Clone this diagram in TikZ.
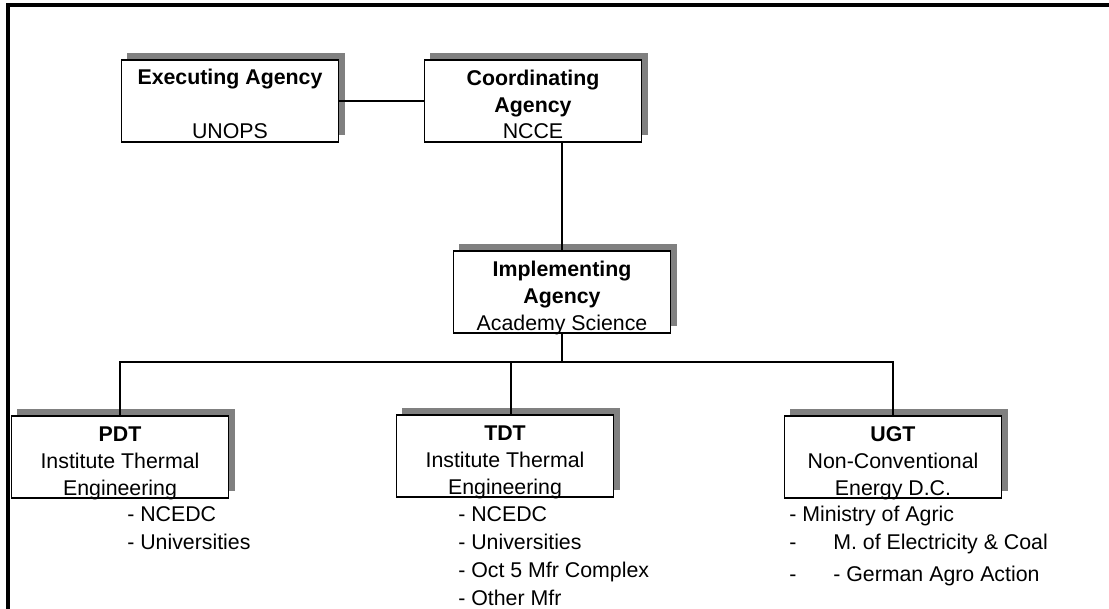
\documentclass[tikz,border=0pt]{standalone}
\usepackage{fontspec}
\setmainfont{Liberation Sans}
\usetikzlibrary{shadows}
\definecolor{shadowgrey}{HTML}{808080}
\tikzset{
  agency/.style={draw, line width=0.9pt, fill=white, minimum width=163pt,
    minimum height=61.5pt, align=center, inner xsep=2pt, inner ysep=2.25pt,
    text height=57pt, text depth=0pt, font=\fontsize{16}{20}\selectfont,
    drop shadow={shadow xshift=4.5pt, shadow yshift=5pt, fill=shadowgrey, opacity=1}},
  members/.style={anchor=north west, align=left, inner sep=0pt,
    font=\fontsize{16}{21}\selectfont},
  frame/.style={line width=2.4pt},
  link/.style={line width=0.8pt}
}
\begin{document}
\begin{tikzpicture}[x=0.75pt,y=-0.75pt]
  \useasboundingbox (0,0) rectangle (1109,609);
  \draw[frame] (8,609) |- (1109,5);
  \draw
    (230,101) node[agency] (exec){\textbf{Executing Agency}\\[20.5pt]UNOPS}
    (533,101) node[agency] (coord){\textbf{Coordinating}\\\textbf{Agency}\\NCCE}
    (562,292) node[agency] (impl){\textbf{Implementing}\\\textbf{Agency}\\Academy Science}
    (120,457) node[agency] (pdt){\textbf{PDT}\\Institute Thermal\\Engineering}
    (505,456) node[agency] (tdt){\textbf{TDT}\\Institute Thermal\\Engineering}
    (893,457) node[agency] (ugt){\textbf{UGT}\\Non-Conventional\\Energy D.C.};
  \coordinate (bus) at (562,362);
  % who works with whom
  \node[members] (pdtlist) at (127,506) {- NCEDC\\- Universities};
  \node[members] (tdtlist) at (458,506) {- NCEDC\\- Universities\\- Oct 5 Mfr Complex\\- Other Mfr};
  \node[members] (ugtlist) at (789,506) {- Ministry of Agric\\
    \makebox[33pt][l]{-}M. of Electricity \& Coal\\[3pt]
    \makebox[33pt][l]{-}- German Agro Action};
  \begin{scope}[link]
    \draw (exec) to (coord);
    \draw (impl.north) to (impl.north |- coord.south);
    \draw (impl.south) to (bus);
    \draw (pdt.north) |- (bus) -| (ugt.north);
    \draw ([xshift=4.5pt]tdt.north) to ([xshift=4.5pt]tdt.north |- bus);
  \end{scope}
\end{tikzpicture}
\end{document}
